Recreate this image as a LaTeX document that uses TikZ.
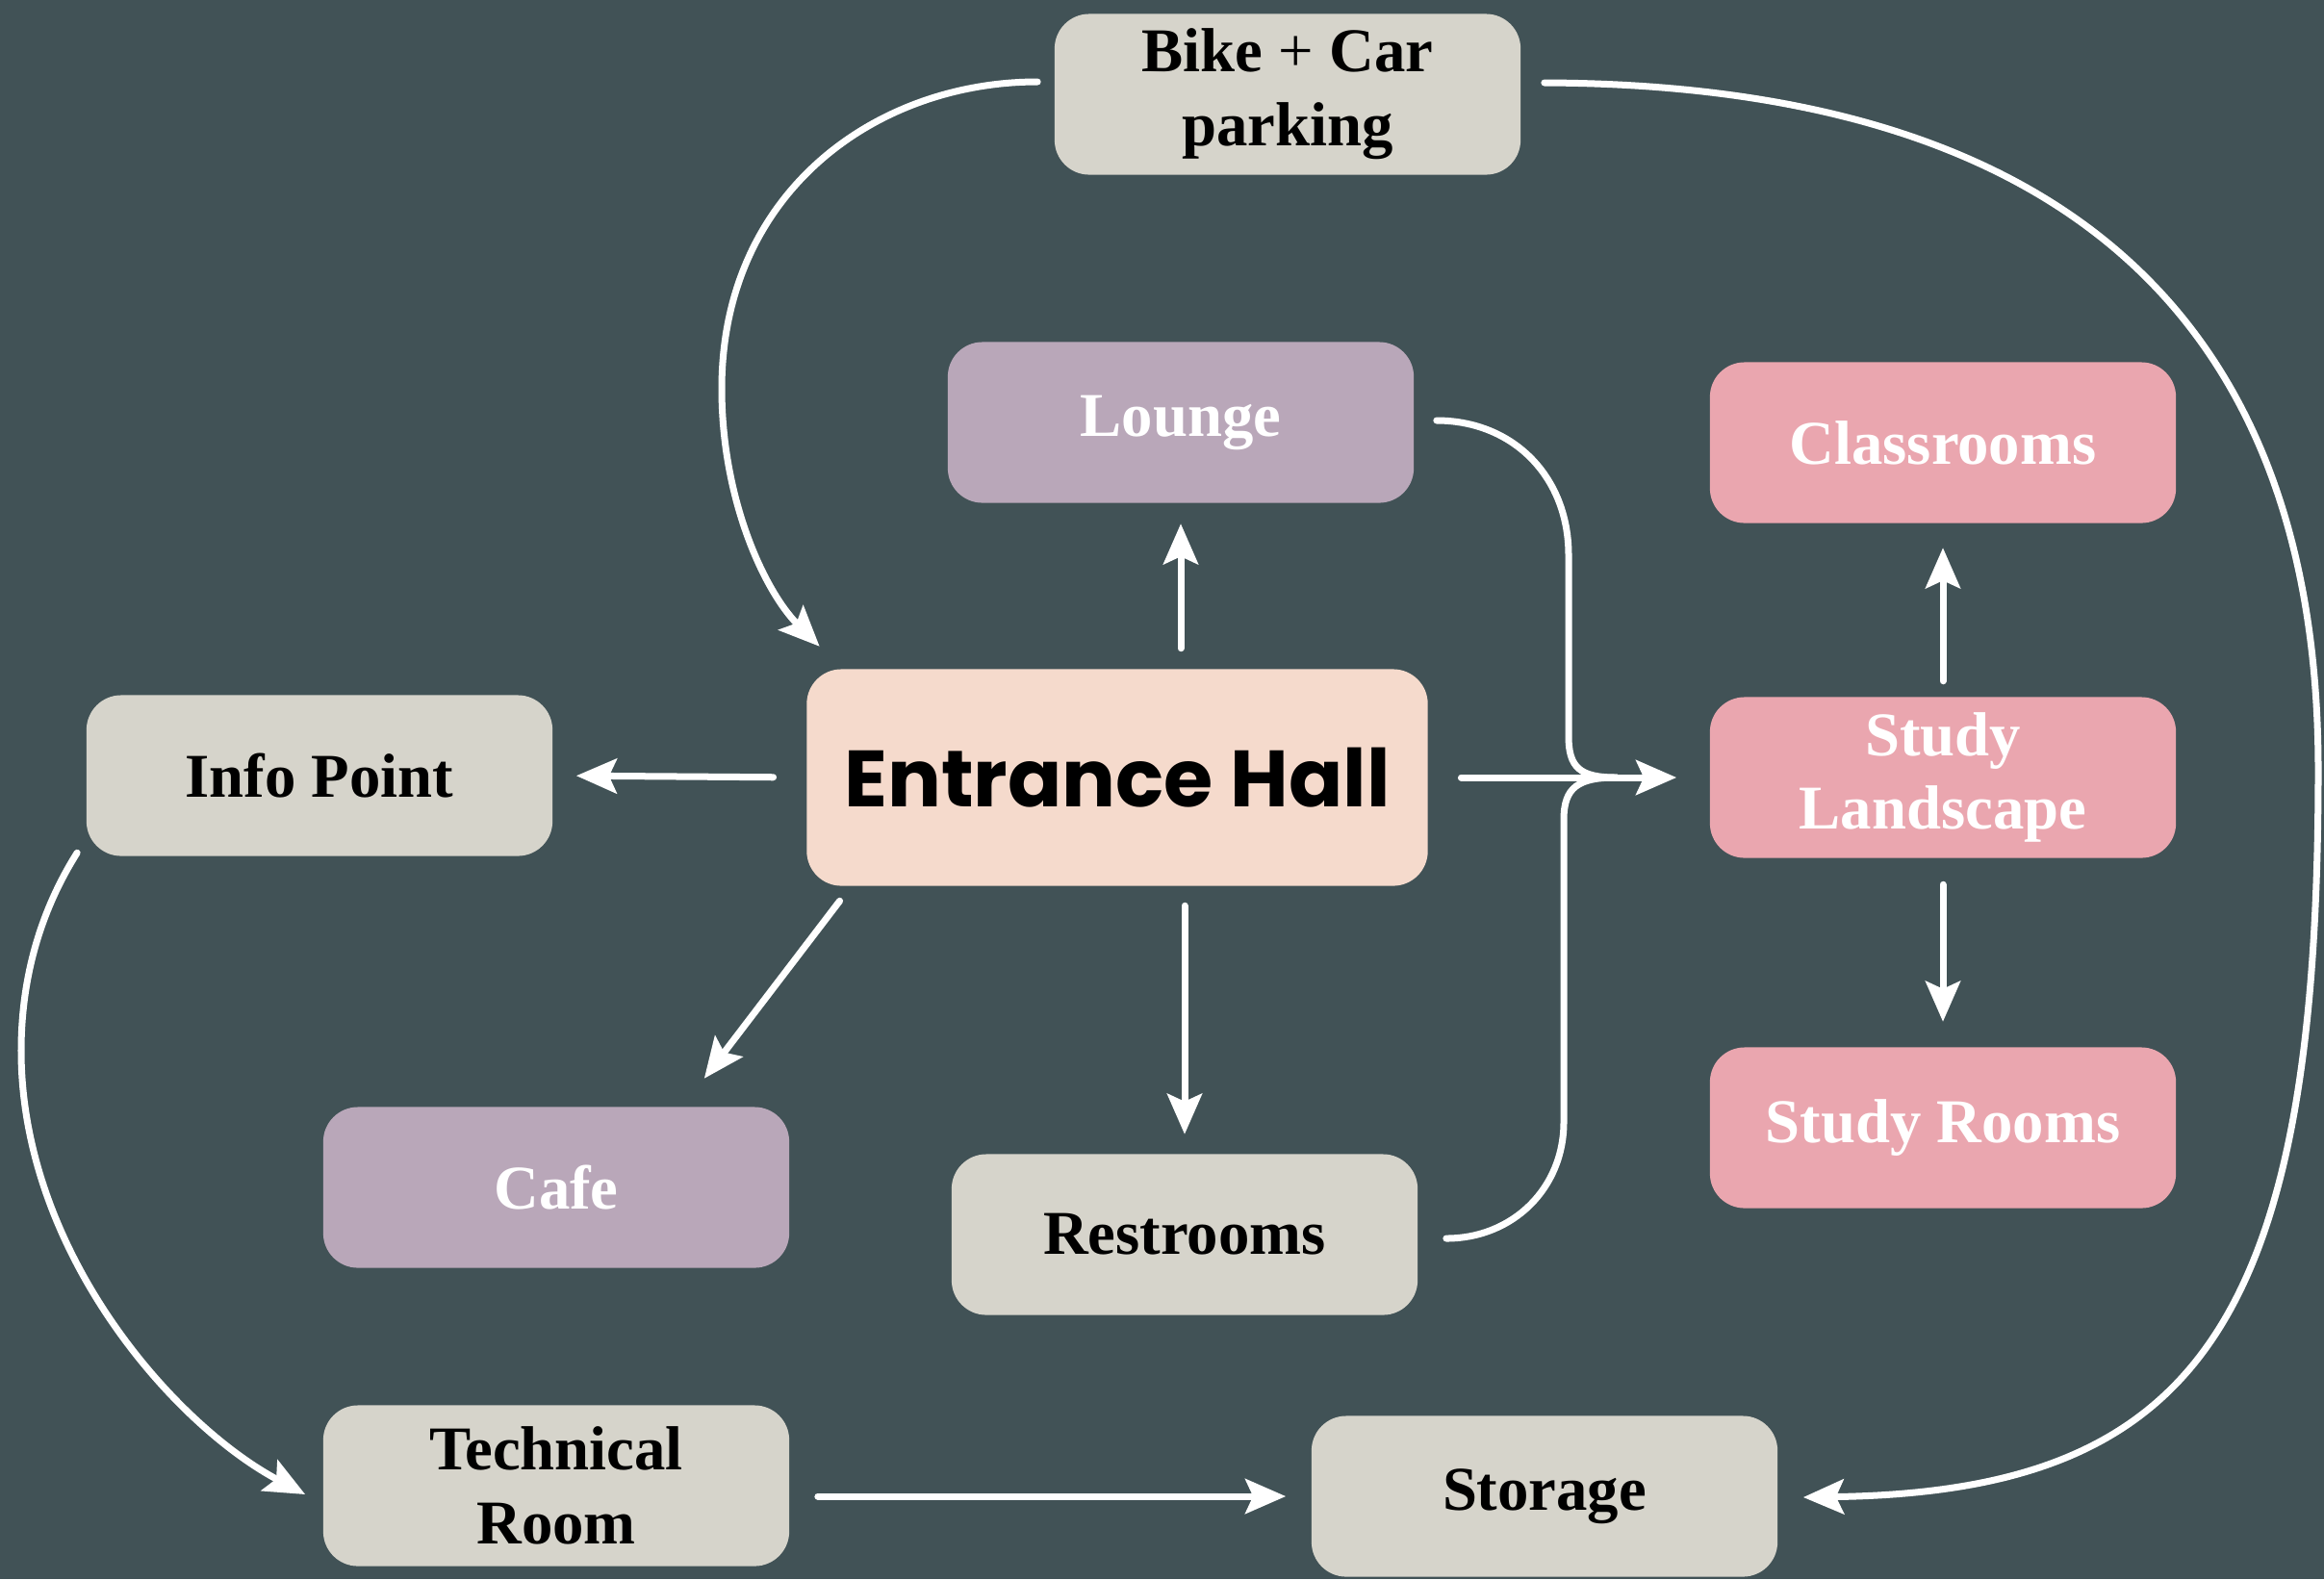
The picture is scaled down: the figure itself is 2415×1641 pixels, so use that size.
\documentclass[tikz,border=0pt]{standalone}
\usepackage{fontspec}
\setmainfont{Liberation Serif}
\newfontfamily\hallfont{Poppins}
\usetikzlibrary{arrows.meta}
\definecolor{bg}{HTML}{415256}
\definecolor{boxgrey}{HTML}{D6D4CB}
\definecolor{lilac}{HTML}{B9A7B9}
\definecolor{rose}{HTML}{EAA6AF}
\definecolor{peach}{HTML}{F5DACC}
\newcommand\lblfont{\fontsize{18.4pt}{21.8pt}\selectfont\bfseries}
\begin{document}
\begin{tikzpicture}[x=0.01cm, y=-0.01cm,
  box/.style={rectangle, rounded corners=0.36cm, minimum width=4.84cm,
    minimum height=1.67cm, inner sep=0pt, align=center, font=\lblfont},
  greybox/.style={box, fill=boxgrey, text=black},
  lilacbox/.style={box, fill=lilac, text=white},
  pinkbox/.style={box, fill=rose, text=white},
  wire/.style={draw=white, line width=0.07cm, line cap=round},
  arr/.style={wire, -{Stealth[length=0.42cm, width=0.36cm, inset=0.08cm]}},
]
% canvas
\fill[bg] (0,0) rectangle (2415,1641);
\useasboundingbox (0,0) rectangle (2415,1641);

% rooms
\node[greybox] (park) at (1338,98) {Bike {\mdseries+} Car\\parking};
\node[lilacbox] (lounge) at (1227,439) {Lounge};
\node[pinkbox] (class) at (2019,460) {Classrooms};
\node[greybox] (info) at (332,806) {Info Point};
\node[box, fill=peach, minimum width=6.45cm, minimum height=2.25cm,
      font={\hallfont\bfseries\fontsize{23.6pt}{26pt}\selectfont}] (hall) at (1161,808) {Entrance Hall};
\node[pinkbox] (studyl) at (2019,808) {Study\\Landscape};
\node[lilacbox] (cafe) at (578,1234) {Cafe};
\node[greybox] (rest) at (1231,1283) {Restrooms};
\node[pinkbox] (studyr) at (2019,1172) {Study Rooms};
\node[greybox] (tech) at (578,1544) {Technical\\Room};
\node[greybox] (stor) at (1605,1555) {Storage};

% straight links out of the hall
\draw[arr, shorten <=0.21cm, shorten >=0.21cm] (hall.north -| lounge.south) -- (lounge.south);
\draw[arr, shorten <=0.34cm, shorten >=0.24cm] (hall.west) -- (info.east);
\draw[arr] ([shift={(35,15)}]hall.south west) -- ([shift={(-89,-29)}]cafe.north east);
\draw[arr, shorten <=0.2cm, shorten >=0.2cm] (hall.south -| rest.north) -- (rest.north);
\draw[arr, shorten <=0.34cm, shorten >=0.34cm] (hall.east) -- (studyl.west);

% lounge and restrooms merge into the hall -> study landscape line
\coordinate (jn) at (1680,808);
\draw[wire] ([shift={(23,-2)}]lounge.east) .. controls (1572,437) and (1630,495) .. (1630,577)
  -- (1630,765) .. controls (1630,798) and (1642,808) .. (jn);
\draw[wire] ([shift={(29,4)}]rest.east) .. controls (1572,1287) and (1625,1235) .. (1625,1166)
  -- (1625,852) .. controls (1625,818) and (1640,808) .. (jn);

% study cluster
\draw[arr, shorten <=0.16cm, shorten >=0.25cm] (studyl.north) -- (class.south);
\draw[arr, shorten <=0.27cm, shorten >=0.26cm] (studyl.south) -- (studyr.north);

% parking links
\draw[arr] ([shift={(-17,-13)}]park.west) .. controls (910,85) and (750,200) .. (750,404)
  .. controls (750,520) and (795,615) .. ([shift={(14,-23)}]hall.north west);
\draw[arr] ([shift={(24,-12)}]park.east) .. controls (2130,88) and (2409,320) .. (2409,800)
  .. controls (2409,1380) and (2280,1550) .. ([shift={(26,1)}]stor.east);

% service links
\draw[arr] ([shift={(-9,-4)}]info.south west) .. controls (40,950) and (22,1020) .. (22,1092)
  .. controls (22,1300) and (180,1480) .. ([shift={(-18,9)}]tech.west);
\draw[arr, shorten <=0.29cm, shorten >=0.26cm] (tech.east |- stor.west) -- (stor.west);
\end{tikzpicture}
\end{document}
